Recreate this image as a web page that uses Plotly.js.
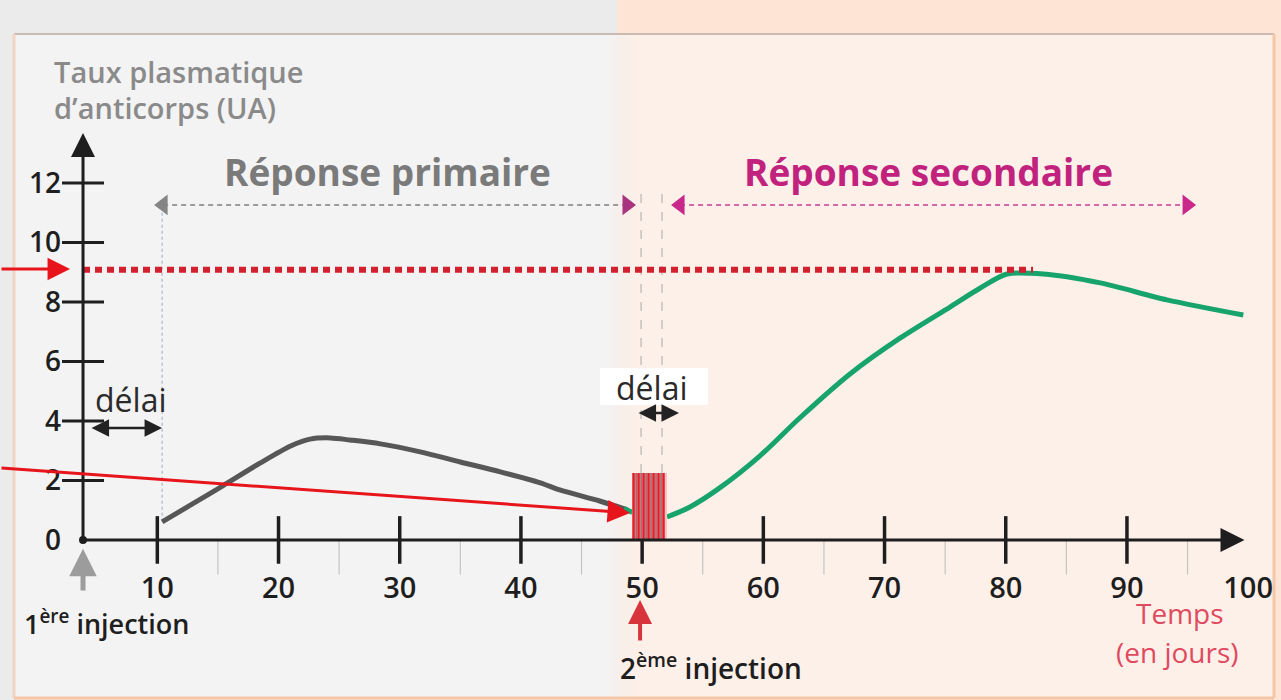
<!DOCTYPE html>
<html>
<head>
<meta charset="utf-8">
<script src="https://cdn.plot.ly/plotly-3.0.1.min.js"></script>
<style>html,body{margin:0;padding:0;background:#ebebeb;}#chart{width:1281px;height:700px;}</style>
</head>
<body>
<div id="chart"></div>
<script>
// ---- data ----
const xTickVals = [10, 20, 30, 40, 50, 60, 70, 80, 90, 100];
const yTickVals = [0, 2, 4, 6, 8, 10, 12];
const majorXTicks = [10, 20, 30, 40, 50, 60, 70, 80, 90];
const minorXTicks = [15, 25, 35, 45, 55, 65, 75, 85, 95];
const majorYTicks = [2, 4, 6, 8, 10, 12];

const primaryDays   = [10.4, 12.9, 15.4, 18.5, 21.0, 22.6, 24.3, 25.9, 28.4, 31.7, 35.0, 38.3, 41.6, 43.2, 46.5, 48.8];
const primaryLevels = [0.61, 1.21, 1.82, 2.59, 3.16, 3.39, 3.43, 3.36, 3.23, 2.96, 2.62, 2.29, 1.92, 1.68, 1.31, 1.01];

const secondaryDays   = [52.05, 53.95, 56.4, 59.7, 63.0, 67.15, 71.3, 75.4, 77.9, 80.1, 83.1, 87.8, 93.3, 99.6];
const secondaryLevels = [0.77, 1.11, 1.75, 2.82, 4.10, 5.58, 6.79, 7.83, 8.47, 8.94, 8.94, 8.64, 8.07, 7.56];

const junctionDays = [48.5, 49.2];
const junctionLevels = [1.06, 0.92];

const injection1Day = 3.87;          // position of the first injection (y axis)
const injection2Window = [49.17, 52.05];
const injection2Top = 2.25;
const injection2Day = 49.83;
const delay1 = [4.45, 10.39];
const delay2 = [49.58, 53.04];
const delay2Lines = [49.91, 51.64];
const peakLevel = 9.08;
const peakEndDay = 82.25;
const primarySpan = [10.48, 48.75];
const secondarySpan = [53.13, 94.96];
const spanLevel = 11.26;
const stripeCount = 7;

// ---- layout helpers ----
const W = 1281, H = 700;
const px = v => v / W;
const py = v => 1 - v / H;
const FONT = 'Open Sans, Noto Sans, sans-serif';

const traces = [];
// major ticks crossing the x axis
traces.push({x: majorXTicks, y: majorXTicks.map(() => 0), mode: 'markers', hoverinfo: 'skip',
  marker: {symbol: 'line-ns', size: 34, line: {width: 3.5, color: '#1e1e1e'}}});
// minor ticks
traces.push({x: minorXTicks, y: minorXTicks.map(() => -0.6), mode: 'markers', hoverinfo: 'skip',
  marker: {symbol: 'line-ns', size: 24, line: {width: 1.2, color: '#c4c4c4'}}});
// y ticks
traces.push({x: majorYTicks.map(() => injection1Day), y: majorYTicks, mode: 'markers', hoverinfo: 'skip',
  marker: {symbol: 'line-ew', size: 30, line: {width: 3, color: '#1e1e1e'}}});
// origin dot
traces.push({x: [injection1Day], y: [0], mode: 'markers', hoverinfo: 'skip', marker: {size: 8, color: '#1e1e1e'}});
// primary curve
traces.push({x: primaryDays, y: primaryLevels, mode: 'lines', line: {color: '#575757', width: 5, shape: 'spline', smoothing: 0.8}});
traces.push({x: junctionDays, y: junctionLevels, mode: 'lines', line: {color: '#1aa36b', width: 5}});
// secondary curve
traces.push({x: secondaryDays, y: secondaryLevels, mode: 'lines', line: {color: '#17a46c', width: 5, shape: 'spline', smoothing: 0.8}});
// span arrow heads
traces.push({x: [primarySpan[0]], y: [spanLevel], mode: 'markers', hoverinfo: 'skip',
  marker: {symbol: 'triangle-left', size: 18, color: '#858585', line: {width: 0}}});
traces.push({x: [primarySpan[1]], y: [spanLevel], mode: 'markers', hoverinfo: 'skip',
  marker: {symbol: 'triangle-right', size: 18, color: '#a8337f', line: {width: 0}}});
traces.push({x: [secondarySpan[0]], y: [spanLevel], mode: 'markers', hoverinfo: 'skip',
  marker: {symbol: 'triangle-left', size: 18, color: '#c8288a', line: {width: 0}}});
traces.push({x: [secondarySpan[1]], y: [spanLevel], mode: 'markers', hoverinfo: 'skip',
  marker: {symbol: 'triangle-right', size: 18, color: '#c8288a', line: {width: 0}}});

const shapes = [];
// backgrounds
shapes.push({type: 'rect', xref: 'paper', yref: 'paper', x0: px(617), x1: 1, y0: 0, y1: 1, fillcolor: '#fde4d4', line: {width: 0}, layer: 'below'});
shapes.push({type: 'rect', xref: 'paper', yref: 'paper', x0: px(14), x1: px(610), y0: py(697), y1: py(34), fillcolor: '#f3f3f3', line: {width: 0}, layer: 'below'});
const grad = ['#f4f1f0', '#f6efec', '#f9efe9', '#fbefe9'];
grad.forEach((c, i) => shapes.push({type: 'rect', xref: 'paper', yref: 'paper', x0: px(610 + i * 6), x1: px(616 + i * 6), y0: py(697), y1: py(34), fillcolor: c, line: {width: 0}, layer: 'below'}));
shapes.push({type: 'rect', xref: 'paper', yref: 'paper', x0: px(634), x1: px(1273), y0: py(697), y1: py(34), fillcolor: '#fdf0e9', line: {width: 0}, layer: 'below'});
shapes.push({type: 'line', xref: 'paper', yref: 'paper', x0: px(14), x1: px(1274), y0: py(34), y1: py(34), line: {color: '#c9bbb3', width: 2}, layer: 'below'});
shapes.push({type: 'line', xref: 'paper', yref: 'paper', x0: px(14), x1: px(14), y0: py(34), y1: py(698), line: {color: '#efd6c4', width: 3}, layer: 'below'});
shapes.push({type: 'line', xref: 'paper', yref: 'paper', x0: px(1274), x1: px(1274), y0: py(34), y1: py(698), line: {color: '#f5c6a6', width: 3}, layer: 'below'});
shapes.push({type: 'line', xref: 'paper', yref: 'paper', x0: px(14), x1: px(1274), y0: py(698), y1: py(698), line: {color: '#f5c6a6', width: 3}, layer: 'below'});

// vertical guide lines
shapes.push({type: 'line', x0: primaryDays[0], x1: primaryDays[0], y0: primaryLevels[0], y1: spanLevel, line: {color: '#b7c3cc', width: 1.5, dash: 'dot'}, layer: 'below'});
delay2Lines.forEach(d => shapes.push({type: 'line', x0: d, x1: d, y0: injection2Top, y1: 11.76, line: {color: '#a9a9a9', width: 1, dash: 'dash'}, layer: 'below'}));
// span dashed lines
shapes.push({type: 'line', x0: primarySpan[0], x1: primarySpan[1], y0: spanLevel, y1: spanLevel, line: {color: '#9b9b9b', width: 2, dash: '5px,4px'}, layer: 'below'});
shapes.push({type: 'line', x0: secondarySpan[0], x1: secondarySpan[1], y0: spanLevel, y1: spanLevel, line: {color: '#d268a8', width: 2, dash: '5px,4px'}, layer: 'below'});
// white box behind the second "délai"
shapes.push({type: 'rect', x0: 46.53, x1: 55.44, y0: 4.54, y1: 5.78, fillcolor: '#ffffff', line: {width: 0}, layer: 'below'});
// peak dotted line
shapes.push({type: 'line', x0: injection1Day, x1: peakEndDay, y0: peakLevel, y1: peakLevel, line: {color: '#d3202f', width: 6, dash: '7px,5px'}});
// second injection striped block
shapes.push({type: 'rect', x0: injection2Window[0], x1: injection2Window[1], y0: 0, y1: injection2Top, fillcolor: '#f8c2c5', line: {width: 0}});
const step = (injection2Window[1] - injection2Window[0]) / stripeCount;
for (let i = 0; i < stripeCount; i++) {
  const xr = injection2Window[0] + step * (i + 0.3);
  const xd = injection2Window[0] + step * (i + 0.8);
  shapes.push({type: 'line', x0: xr, x1: xr, y0: 0, y1: injection2Top, line: {color: '#e11f2b', width: 2.5}});
  if (i < stripeCount - 1) shapes.push({type: 'line', x0: xd, x1: xd, y0: 0, y1: injection2Top, line: {color: '#5e1616', width: 0.9}});
}

const arrow = (x, y, ax, ay, color, width, size, head, side) => ({
  x, y, ax, ay, xref: 'x', yref: 'y', axref: 'x', ayref: 'y', text: '', showarrow: true,
  arrowcolor: color, arrowwidth: width, arrowsize: size, arrowhead: head, arrowside: side || 'end', standoff: 0, startstandoff: 0
});
const label = (x, y, text, size, color, weight, extra) => Object.assign({
  x, y, xref: 'x', yref: 'y', text, showarrow: false,
  font: {family: FONT, size, color, weight}
}, extra || {});

const annotations = [
  // axes
  arrow(99.7, 0, injection1Day, 0, '#1e1e1e', 3, 1.6, 2),
  arrow(injection1Day, 13.68, injection1Day, 0, '#1e1e1e', 3, 1.6, 2),
  // red arrows
  arrow(2.8, 9.11, -2.98, 9.11, '#e8141c', 3, 1.5, 2),
  arrow(49.0, 0.91, -2.98, 2.42, '#e8141c', 3, 1.5, 2),
  // delay arrows
  arrow(delay1[1], 3.76, delay1[0], 3.76, '#222222', 2.5, 1.4, 2, 'end+start'),
  arrow(delay2[1], 4.27, delay2[0], 4.27, '#222222', 2.5, 1.4, 2, 'end+start'),
  // injection arrows
  arrow(injection1Day, -0.30, injection1Day, -1.75, '#9c9c9c', 5, 1.1, 2),
  arrow(injection2Day, -2.02, injection2Day, -3.43, '#d8343c', 4, 1.2, 2),
  // texts
  label(1.31, 15.73, 'Taux plasmatique', 29, '#8a8a8a', 600, {xanchor: 'left'}),
  label(1.31, 14.55, 'd’anticorps (UA)', 29, '#8a8a8a', 600, {xanchor: 'left'}),
  label(28.95, 12.37, 'Réponse primaire', 37, '#7a7a7a', 700),
  label(73.59, 12.37, 'Réponse secondaire', 37, '#c1227e', 700),
  label(7.75, 4.71, 'délai', 32, '#2a2a2a', 400),
  label(50.8, 5.14, 'délai', 32, '#2a2a2a', 400),
  label(5.77, -2.76, '1<sup>ère</sup> injection', 27, '#1e1e1e', 600),
  label(55.7, -4.27, '2<sup>ème</sup> injection', 28, '#1e1e1e', 600),
  label(94.39, -2.45, 'Temps', 28, '#e04a5f', 400),
  label(94.14, -3.76, '(en jours)', 28, '#e04a5f', 400)
];

const layout = {
  width: W, height: H,
  margin: {l: 0, r: 0, t: 0, b: 0, pad: 0},
  paper_bgcolor: '#ebebeb', plot_bgcolor: 'rgba(0,0,0,0)',
  showlegend: false,
  xaxis: {range: [-2.98, 102.71], showgrid: false, zeroline: false, showline: false,
    tickmode: 'array', tickvals: xTickVals, ticktext: xTickVals.map(String), ticks: '',
    anchor: 'free', position: 160 / H, ticklabelstandoff: 28,
    tickfont: {family: FONT, size: 29, color: '#1e1e1e', weight: 600}},
  yaxis: {range: [-5.38, 18.15], showgrid: false, zeroline: false, showline: false,
    tickmode: 'array', tickvals: yTickVals, ticktext: yTickVals.map(String), ticks: '',
    anchor: 'free', position: 83 / W, ticklabelstandoff: 22,
    tickfont: {family: FONT, size: 28, color: '#1e1e1e', weight: 600}},
  shapes, annotations
};

Plotly.newPlot('chart', traces, layout, {displayModeBar: false, staticPlot: true});
</script>
</body>
</html>
